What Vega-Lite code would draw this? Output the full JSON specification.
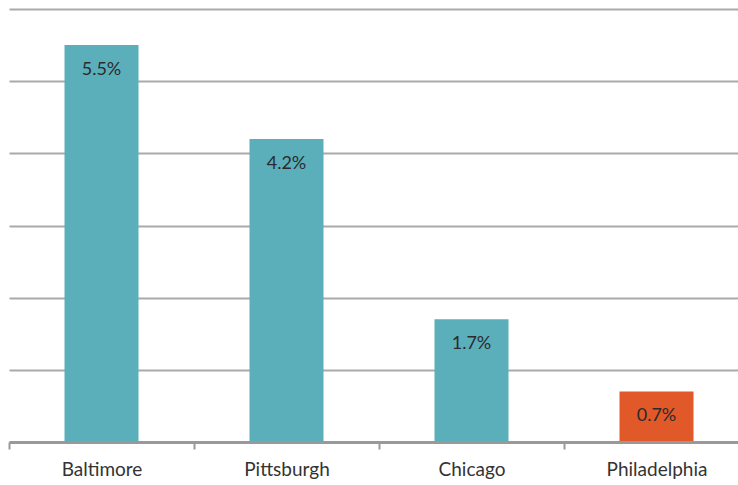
{
  "$schema": "https://vega.github.io/schema/vega-lite/v6.json",
  "width": 740,
  "height": 433,
  "autosize": {"type": "none"},
  "padding": {"left": 9, "top": 9, "right": 0, "bottom": 43},
  "background": "white",
  "config": {"view": {"stroke": null}, "font": "Lato"},
  "data": {
    "values": [
      {"city": "Baltimore", "value": 0.055, "group": "a"},
      {"city": "Pittsburgh", "value": 0.042, "group": "a"},
      {"city": "Chicago", "value": 0.017, "group": "a"},
      {"city": "Philadelphia", "value": 0.007, "group": "b"}
    ]
  },
  "encoding": {
    "x": {
      "field": "city",
      "type": "nominal",
      "sort": null,
      "scale": {"paddingInner": 0, "paddingOuter": 0},
      "axis": {
        "title": null,
        "labelAngle": 0,
        "labelFontSize": 19,
        "labelColor": "#333333",
        "labelPadding": 11,
        "domainColor": "#999999",
        "domainWidth": 3,
        "tickColor": "#999999",
        "tickWidth": 2,
        "tickSize": 7,
        "tickBand": "extent",
        "zindex": 1
      }
    },
    "y": {
      "field": "value",
      "type": "quantitative",
      "scale": {"domain": [0, 0.06], "nice": false},
      "axis": {
        "title": null,
        "labels": false,
        "ticks": false,
        "domain": false,
        "values": [0, 0.01, 0.02, 0.03, 0.04, 0.05, 0.06],
        "gridColor": "#aaaaaa",
        "gridWidth": 2
      }
    }
  },
  "layer": [
    {
      "mark": {"type": "bar", "width": {"band": 0.4}},
      "encoding": {
        "color": {
          "field": "group",
          "type": "nominal",
          "scale": {"domain": ["a", "b"], "range": ["#5BAFBB", "#E15829"]},
          "legend": null
        }
      }
    },
    {
      "mark": {"type": "text", "dy": 25, "baseline": "middle", "fontSize": 18, "color": "#2b2b2b"},
      "encoding": {
        "text": {"field": "value", "type": "quantitative", "format": ".1%"}
      }
    }
  ]
}
